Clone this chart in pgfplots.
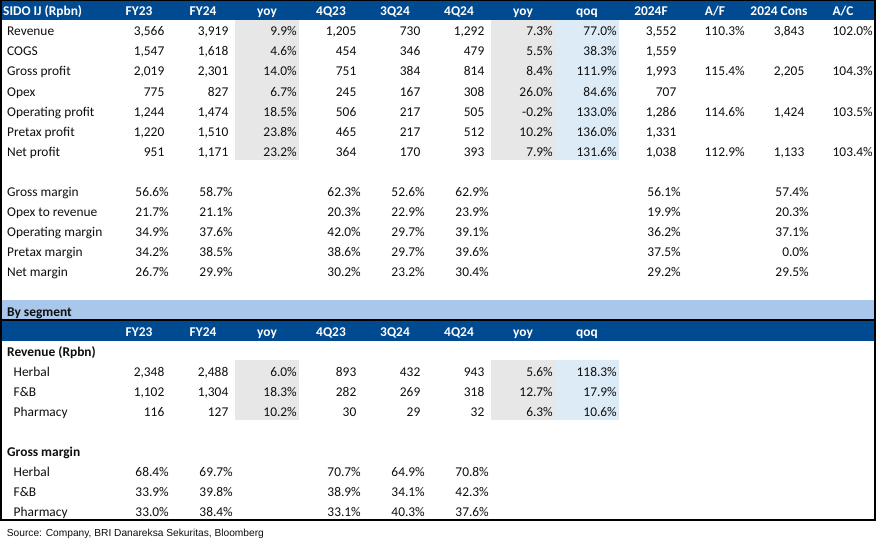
\documentclass[border=0pt]{standalone}
\usepackage{pgfplots}
\pgfplotsset{compat=1.18}
\usepackage{pgfplotstable}
\usepackage{fontspec}
\setmainfont{Carlito}
\newfontfamily\srcfont{Liberation Sans}
\definecolor{hdr}{RGB}{0,74,145}
\definecolor{band}{RGB}{169,199,234}
\definecolor{greyc}{RGB}{231,231,231}
\definecolor{bluec}{RGB}{221,235,247}
\definecolor{ink}{RGB}{15,15,15}
\newcommand\cf{\fontsize{13.4bp}{15bp}\selectfont}

% ---- main block: rows (baseline y) x 12 columns
\pgfplotstableread[col sep=semicolon,row sep=\\]{
y;a;b;c;d;e;f;g;h;i;j;k;l\\
36;3,566;3,919;9.9\%;1,205;730;1,292;7.3\%;77.0\%;3,552;110.3\%;3,843;102.0\%\\
56;1,547;1,618;4.6\%;454;346;479;5.5\%;38.3\%;1,559;;;\\
76;2,019;2,301;14.0\%;751;384;814;8.4\%;111.9\%;1,993;115.4\%;2,205;104.3\%\\
96;775;827;6.7\%;245;167;308;26.0\%;84.6\%;707;;;\\
116;1,244;1,474;18.5\%;506;217;505;-0.2\%;133.0\%;1,286;114.6\%;1,424;103.5\%\\
136;1,220;1,510;23.8\%;465;217;512;10.2\%;136.0\%;1,331;;;\\
156;951;1,171;23.2\%;364;170;393;7.9\%;131.6\%;1,038;112.9\%;1,133;103.4\%\\
}\tA

% ---- margins: FY23 FY24 4Q23 3Q24 4Q24 2024F Cons
\pgfplotstableread[col sep=semicolon,row sep=\\]{
y;a;b;d;e;f;i;k\\
196;56.6\%;58.7\%;62.3\%;52.6\%;62.9\%;56.1\%;57.4\%\\
216;21.7\%;21.1\%;20.3\%;22.9\%;23.9\%;19.9\%;20.3\%\\
236;34.9\%;37.6\%;42.0\%;29.7\%;39.1\%;36.2\%;37.1\%\\
256;34.2\%;38.5\%;38.6\%;29.7\%;39.6\%;37.5\%;0.0\%\\
276;26.7\%;29.9\%;30.2\%;23.2\%;30.4\%;29.2\%;29.5\%\\
}\tB

% ---- segment revenue
\pgfplotstableread[col sep=semicolon,row sep=\\]{
y;a;b;c;d;e;f;g;h\\
376;2,348;2,488;6.0\%;893;432;943;5.6\%;118.3\%\\
396;1,102;1,304;18.3\%;282;269;318;12.7\%;17.9\%\\
416;116;127;10.2\%;30;29;32;6.3\%;10.6\%\\
}\tC

% ---- segment gross margin
\pgfplotstableread[col sep=semicolon,row sep=\\]{
y;a;b;d;e;f\\
476;68.4\%;69.7\%;70.7\%;64.9\%;70.8\%\\
496;33.9\%;39.8\%;38.9\%;34.1\%;42.3\%\\
516;33.0\%;38.4\%;33.1\%;40.3\%;37.6\%\\
}\tD

% ---- row labels
\pgfplotstableread[col sep=semicolon,row sep=\\]{
x;y;t\\
7;36;Revenue\\
7;56;COGS\\
7;76;Gross profit\\
7;96;Opex\\
7;116;Operating profit\\
7;136;Pretax profit\\
7;156;Net profit\\
7;196;Gross margin\\
7;216;Opex to revenue\\
7;236;Operating margin\\
7;256;Pretax margin\\
7;276;Net margin\\
13.5;376;Herbal\\
13.5;396;F\&B\\
13.5;416;Pharmacy\\
13.5;476;Herbal\\
13.5;496;F\&B\\
13.5;516;Pharmacy\\
}\tL

\pgfplotstableread[col sep=semicolon,row sep=\\]{
x;y;t\\
7;316;By segment\\
7;356;Revenue (Rpbn)\\
7;456;Gross margin\\
}\tLB

\pgfplotstableread[col sep=semicolon,row sep=\\]{
x;y;t\\
139;15.5;FY23\\
203;15.5;FY24\\
267;15.5;yoy\\
331;15.5;4Q23\\
395;15.5;3Q24\\
459;15.5;4Q24\\
523;15.5;yoy\\
587;15.5;qoq\\
651;15.5;2024F\\
715;15.5;A/F\\
779;15.5;2024 Cons\\
843;15.5;A/C\\
139;336;FY23\\
203;336;FY24\\
267;336;yoy\\
331;336;4Q23\\
395;336;3Q24\\
459;336;4Q24\\
523;336;yoy\\
587;336;qoq\\
}\tH

\pgfplotsset{
  txt/.style={only marks, mark=*, mark size=0pt, mark options={draw=none,fill=none},
    point meta=explicit symbolic, nodes near coords,
    every node near coord/.append style={inner sep=0pt, font=\cf, text=ink}},
  rtxt/.style={txt, every node near coord/.append style={anchor=base east}},
  ltxt/.style={txt, every node near coord/.append style={anchor=base west}},
  ctxt/.style={txt, every node near coord/.append style={anchor=base}},
}
\newcommand\col[3]{\addplot[rtxt] table[x expr=#3, y=y, meta=#2]{#1};}

\begin{document}
\begin{tikzpicture}
\begin{axis}[hide axis, scale only axis, width=877bp, height=542bp,
  xmin=0, xmax=877, ymin=0, ymax=542, y dir=reverse, clip=false]
% backgrounds
\addplot[fill=white, draw=none] coordinates {(0,0) (877,0) (877,542) (0,542)} --cycle;
\addplot[fill=hdr, draw=none] coordinates {(1,0) (875,0) (875,20) (1,20)} --cycle;
\addplot[fill=greyc, draw=none] coordinates {(235,20) (299,20) (299,160) (235,160)} --cycle;
\addplot[fill=greyc, draw=none] coordinates {(491,20) (555,20) (555,160) (491,160)} --cycle;
\addplot[fill=bluec, draw=none] coordinates {(555,20) (619,20) (619,160) (555,160)} --cycle;
\addplot[fill=band, draw=none] coordinates {(1,300) (875,300) (875,320) (1,320)} --cycle;
\addplot[fill=hdr, draw=none] coordinates {(1,320) (875,320) (875,341) (1,341)} --cycle;
\addplot[fill=greyc, draw=none] coordinates {(235,360) (299,360) (299,420) (235,420)} --cycle;
\addplot[fill=greyc, draw=none] coordinates {(491,360) (555,360) (555,420) (491,420)} --cycle;
\addplot[fill=bluec, draw=none] coordinates {(555,360) (619,360) (619,420) (555,420)} --cycle;
% borders
\addplot[black, line width=1.2bp] coordinates {(1,0.6) (875,0.6) (875,520) (1,520)} --cycle;
\addplot[black, line width=1.2bp] coordinates {(1,320) (875,320)};
% values, main block
\col{\tA}{a}{164.5}
\col{\tA}{b}{228.5}
\col{\tA}{c}{297}
\col{\tA}{d}{356.5}
\col{\tA}{e}{420.5}
\col{\tA}{f}{484.5}
\col{\tA}{g}{553}
\col{\tA}{h}{617}
\col{\tA}{i}{676.5}
\col{\tA}{j}{745}
\col{\tA}{k}{804.5}
\col{\tA}{l}{873}
% margins
\col{\tB}{a}{169}
\col{\tB}{b}{233}
\col{\tB}{d}{361}
\col{\tB}{e}{425}
\col{\tB}{f}{489}
\col{\tB}{i}{681}
\col{\tB}{k}{809}
% segment revenue
\col{\tC}{a}{164.5}
\col{\tC}{b}{228.5}
\col{\tC}{c}{297}
\col{\tC}{d}{356.5}
\col{\tC}{e}{420.5}
\col{\tC}{f}{484.5}
\col{\tC}{g}{553}
\col{\tC}{h}{617}
% segment margin
\col{\tD}{a}{169}
\col{\tD}{b}{233}
\col{\tD}{d}{361}
\col{\tD}{e}{425}
\col{\tD}{f}{489}
% labels
\addplot[ltxt] table[x=x, y=y, meta=t]{\tL};
\addplot[ltxt, every node near coord/.append style={font=\cf\bfseries}] table[x=x, y=y, meta=t]{\tLB};
\addplot[ctxt, every node near coord/.append style={font=\cf\bfseries, text=white}] table[x=x, y=y, meta=t]{\tH};
\addplot[ltxt, every node near coord/.append style={font=\cf\bfseries, text=white}] coordinates {(3,15.5)} node[pos=0, anchor=base west, inner sep=0pt, font=\cf\bfseries, text=white] {SIDO IJ (Rpbn)};
\addplot[ltxt, every node near coord/.append style={font=\srcfont\fontsize{10.2bp}{12bp}\selectfont}] coordinates {(6.7,536.5)} node[pos=0, anchor=base west, inner sep=0pt, font=\srcfont\fontsize{10.2bp}{12bp}\selectfont, text=ink] {Source: Company, BRI Danareksa Sekuritas, Bloomberg};
\end{axis}
\end{tikzpicture}
\end{document}
